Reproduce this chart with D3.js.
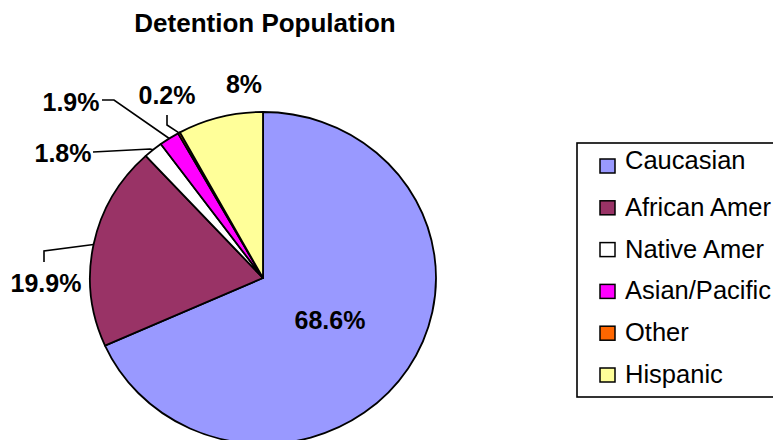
<!DOCTYPE html>
<html>
<head>
<meta charset="utf-8">
<script src="https://cdn.jsdelivr.net/npm/d3@7/dist/d3.min.js"></script>
<style>
  html, body { margin: 0; padding: 0; background: #fff; }
  svg { display: block; font-family: "Liberation Sans", Arial, sans-serif; }
</style>
</head>
<body>
<svg id="chart" width="773" height="440"></svg>
<script>
// ---- data ----
const title = "Detention Population";
const categories = ["Caucasian", "African Amer", "Native Amer", "Asian/Pacific", "Other", "Hispanic"];
const values = [68.6, 19.9, 1.8, 1.9, 0.2, 8];
const valueLabels = ["68.6%", "19.9%", "1.8%", "1.9%", "0.2%", "8%"];
const colors = ["#9999FF", "#993366", "#FFFFFF", "#FF00FF", "#FF6600", "#FFFF99"];

// ---- layout ----
const W = 773, H = 440;
const cx = 263, cy = 278, rx = 173, ry = 166;
// label positions (text centre x, baseline y) and optional leader elbow points
const labelLayout = [
  { x: 330, y: 329, leader: null },
  { x: 46, y: 292, leader: [[44, 262], [44, 251]] },
  { x: 63, y: 162, leader: [[93, 152], [150, 149]] },
  { x: 71, y: 111, leader: [[102, 100], [114, 100]] },
  { x: 167, y: 104, leader: [[167, 115], [167, 125]] },
  { x: 244, y: 93, leader: null }
];

const svg = d3.select("#chart");

svg.append("text")
  .attr("x", 265).attr("y", 32)
  .attr("text-anchor", "middle")
  .attr("font-size", 26).attr("font-weight", "bold")
  .attr("fill", "#000")
  .text(title);

const data = categories.map((c, i) => ({ name: c, value: values[i], label: valueLabels[i], color: colors[i] }));

const pie = d3.pie().sort(null).value(d => d.value).startAngle(0).endAngle(2 * Math.PI);
const arcs = pie(data);
const arc = d3.arc().innerRadius(0).outerRadius(rx);

const g = svg.append("g")
  .attr("transform", `translate(${cx},${cy}) scale(1,${ry / rx})`);

g.selectAll("path.slice")
  .data(arcs)
  .enter().append("path")
  .attr("class", "slice")
  .attr("d", arc)
  .attr("fill", d => d.data.color)
  .attr("stroke", "#000")
  .attr("stroke-width", 1.8)
  .attr("stroke-linejoin", "round")
  .attr("vector-effect", "non-scaling-stroke");

// edge point of a slice at its mid angle, in page coords
function edgePoint(a) {
  const m = (a.startAngle + a.endAngle) / 2;
  return [cx + rx * Math.sin(m), cy - ry * Math.cos(m)];
}

const line = d3.line();
arcs.forEach((a, i) => {
  const L = labelLayout[i];
  if (L.leader) {
    const pts = L.leader.concat([edgePoint(a)]);
    svg.append("path")
      .attr("d", line(pts))
      .attr("fill", "none")
      .attr("stroke", "#000")
      .attr("stroke-width", 1.6);
  }
  svg.append("text")
    .attr("x", L.x).attr("y", L.y)
    .attr("text-anchor", "middle")
    .attr("font-size", 25).attr("font-weight", "bold")
    .attr("fill", "#000")
    .text(a.data.label);
});

// ---- legend ----
const legend = svg.append("g");
legend.append("rect")
  .attr("x", 577).attr("y", 143)
  .attr("width", 220).attr("height", 254)
  .attr("fill", "#fff")
  .attr("stroke", "#000")
  .attr("stroke-width", 1.6);

const ly = d3.scalePoint().domain(categories).range([166, 375]);

const items = legend.selectAll("g.item")
  .data(data)
  .enter().append("g")
  .attr("class", "item")
  .attr("transform", d => `translate(0,${ly(d.name)})`);

items.append("rect")
  .attr("x", 600).attr("y", -7)
  .attr("width", 15).attr("height", 14)
  .attr("fill", d => d.color)
  .attr("stroke", "#000")
  .attr("stroke-width", 1.5);

items.append("text")
  .attr("x", 625)
  .attr("y", (d, i) => i === 0 ? 3 : 8)
  .attr("font-size", 25.5)
  .attr("fill", "#000")
  .text(d => d.name);
</script>
</body>
</html>
